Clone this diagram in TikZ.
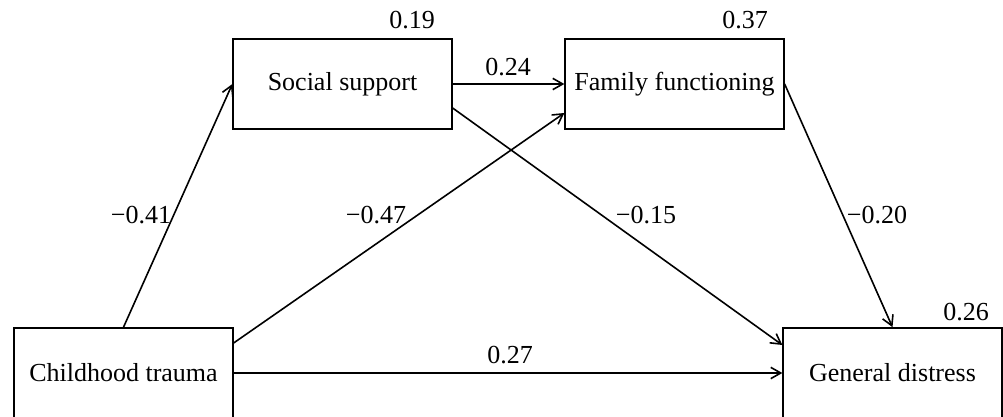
\documentclass[tikz,border=0pt]{standalone}
\usepackage{fontspec}
\setmainfont{Liberation Serif}
\usetikzlibrary{arrows.meta}
\tikzset{
  var/.style={draw, line width=1.2pt, rectangle, minimum width=164pt, minimum height=67.5pt, inner sep=0pt, font=\fontsize{19.5}{23}\selectfont},
  path/.style={line width=1.2pt, -{Straight Barb[length=7.5pt,width=8.5pt,line width=1.2pt]}},
  lab/.style={font=\fontsize{19.5}{23}\selectfont, inner sep=1pt}
}
\begin{document}
\begin{tikzpicture}[x=0.75pt,y=-0.75pt]
\useasboundingbox (0,0) rectangle (1003,417);
\node[var] (ss) at (342.5,84) {Social support};
\node[var] (ff) at (674.5,84) {Family functioning};
\node[var] (ct) at (123.5,373) {Childhood trauma};
\node[var] (gd) at (892.5,373) {General distress};

\draw[path] (ct.north) -- (ss.west);
\draw[path] ([yshift=22.5pt]ct.east) -- ([yshift=-21.75pt]ff.west);
\draw[path] (ss.east) -- (ff.west);
\draw[path] ([yshift=-18pt]ss.east) -- ([yshift=21pt]gd.west);
\draw[path] (ff.east) -- (gd.north);
\draw[path] (ct.east) -- (gd.west);

\node[lab] (r1) at (412,20) {0.19};
\node[lab] (r2) at (745,20) {0.37};
\node[lab] (r3) at (966,312) {0.26};
\node[lab] (c1) at (508,67) {0.24};
\node[lab] (c2) at (141,215) {−0.41};
\node[lab] (c3) at (376,215) {−0.47};
\node[lab] (c4) at (646,215) {−0.15};
\node[lab] (c5) at (877,215) {−0.20};
\node[lab] (c6) at (510,355) {0.27};
\end{tikzpicture}
\end{document}
